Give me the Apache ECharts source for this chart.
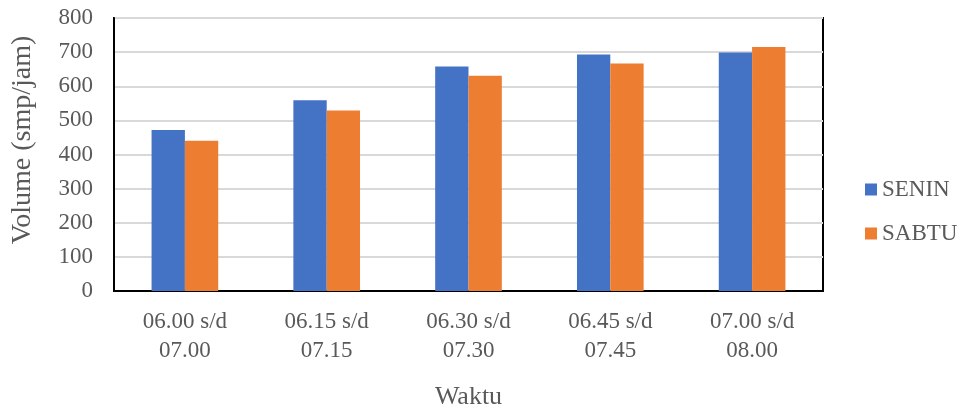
<!DOCTYPE html>
<html>
<head>
<meta charset="utf-8">
<script src="https://cdn.jsdelivr.net/npm/echarts@6/dist/echarts.min.js"></script>
<style>
  html, body { margin: 0; padding: 0; background: #fff; }
  #chart { width: 965px; height: 410px; }
</style>
</head>
<body>
<div id="chart"></div>
<script>
// Traffic volume per peak hour window
const categories = ['06.00 s/d\n07.00', '06.15 s/d\n07.15', '06.30 s/d\n07.30', '06.45 s/d\n07.45', '07.00 s/d\n08.00'];
const seriesNames = ['SENIN', 'SABTU'];
const senin = [472, 559, 658, 693, 699];
const sabtu = [440, 529, 631, 667, 715];
const yTicks = { min: 0, max: 800, interval: 100 };

const FONT = 'Liberation Serif';
const TEXT = '#595959';
const legendText = { fontFamily: FONT, fontSize: 23, lineHeight: 23, color: TEXT };

const chart = echarts.init(document.getElementById('chart'), null, { renderer: 'canvas' });
chart.setOption({
  animation: false,
  textStyle: { fontFamily: FONT },
  grid: {
    left: 114, right: 142, top: 18, bottom: 119,
    outerBoundsMode: 'none',
    containLabel: false,
    show: true, borderColor: '#000', borderWidth: 2, backgroundColor: 'transparent'
  },
  legend: {
    orient: 'vertical',
    left: 860, top: 173,
    padding: 5,
    itemWidth: 12, itemHeight: 12, itemGap: 21,
    icon: 'rect',
    formatter: '{t|{name}}',
    textStyle: Object.assign({}, legendText, { rich: { t: legendText } }),
    data: seriesNames
  },
  xAxis: {
    type: 'category',
    data: categories,
    name: 'Waktu',
    nameLocation: 'middle',
    nameGap: 93,
    nameTextStyle: { fontFamily: FONT, fontSize: 26, color: TEXT },
    axisLine: { show: true, lineStyle: { color: '#000', width: 2 } },
    axisTick: { show: false },
    axisLabel: { fontFamily: FONT, fontSize: 23, color: TEXT, lineHeight: 28.5, margin: 17 }
  },
  yAxis: {
    type: 'value',
    min: yTicks.min, max: yTicks.max, interval: yTicks.interval,
    name: 'Volume (smp/jam)',
    nameLocation: 'middle',
    nameGap: 77,
    nameTextStyle: { fontFamily: FONT, fontSize: 28, color: TEXT, padding: [0, 0, 0, 29] },
    axisLine: { show: true, lineStyle: { color: '#000', width: 2 } },
    axisTick: { show: false },
    axisLabel: { fontFamily: FONT, fontSize: 23, color: TEXT, margin: 21 },
    splitLine: { lineStyle: { color: '#d9d9d9', width: 2 } }
  },
  series: [
    {
      name: seriesNames[0], type: 'bar', data: senin,
      barGap: '0%', barCategoryGap: '53%',
      itemStyle: { color: '#4472c4' }
    },
    {
      name: seriesNames[1], type: 'bar', data: sabtu,
      itemStyle: { color: '#ed7d31' }
    }
  ]
});
</script>
</body>
</html>
